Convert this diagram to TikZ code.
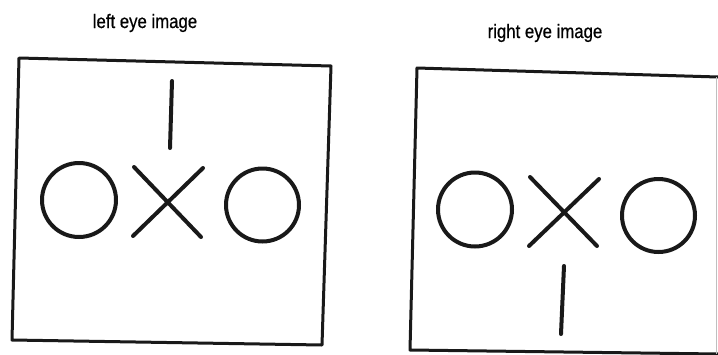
\documentclass[tikz,border=0pt]{standalone}
\usepackage{fontspec}
\setmainfont{Liberation Sans}
\newfontfamily\capfont{Liberation Sans}[FakeBold=0.6]
\begin{document}
\begin{tikzpicture}[x=1pt,y=-1pt,line join=round,
  frame/.style={draw=black!90,line width=3pt},
  mark line/.style={draw=black!90,line width=4pt,line cap=round},
  ring/.style={circle,draw=black!90,line width=4pt,inner sep=0pt},
  caption/.style={font=\capfont\fontsize{19.5}{22}\selectfont,anchor=base,xscale=0.86,inner sep=0pt}]
\useasboundingbox (0,0) rectangle (718,354);
% captions
\node[caption] (lt) at (145,28) {left eye image};
\node[caption] (rt) at (545,38) {right eye image};
% left frame
\draw[frame] (19,58) -- (331,66) -- (322,345) -- (12,340) -- cycle;
\draw[mark line] (172,81) -- (170,148);
\node[ring,minimum size=74pt] (lc1) at (79,200) {};
\draw[mark line] (134,167) -- (201,237);
\draw[mark line] (203,168) -- (133,236);
\node[ring,minimum size=73pt] (lc2) at (262.5,205) {};
% right frame
\draw[frame] (718,77) -- (417,68) -- (410,350) -- (718,354);
\draw[black!25,line width=1pt] (716.5,77) -- (716.5,354);
\node[ring,minimum size=74pt] (rc1) at (475,209.5) {};
\draw[mark line] (530,177) -- (597,246);
\draw[mark line] (599,179) -- (529,246);
\node[ring,minimum size=73pt] (rc2) at (658.5,215.5) {};
\draw[mark line] (564,266) -- (561,334);
\end{tikzpicture}
\end{document}
